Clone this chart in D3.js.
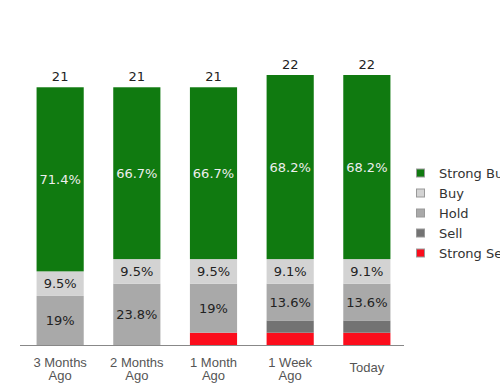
<!DOCTYPE html>
<html>
<head>
<meta charset="utf-8">
<script src="https://cdn.jsdelivr.net/npm/d3@7"></script>
<style>
  body { margin: 0; background: #fff; }
  svg { display: block; }
</style>
</head>
<body>
<div id="chart"></div>
<script>
// periods and analyst counts per rating
const periods = ["3 Months Ago", "2 Months Ago", "1 Month Ago", "1 Week Ago", "Today"];
const ratings = ["Strong Buy", "Buy", "Hold", "Sell", "Strong Sell"];
const strongBuy = [15, 14, 14, 15, 15];
const buy = [2, 2, 2, 2, 2];
const hold = [4, 5, 4, 3, 3];
const sell = [0, 0, 0, 1, 1];
const strongSell = [0, 0, 1, 1, 1];

const colors = ["#107a10", "#d3d3d3", "#a9a9a9", "#737373", "#fb0d1c"];

const width = 500;
const height = 383;

// build rows for the stack, bottom of the bar is strong sell
const rows = periods.map((p, i) => ({
    period: p,
    "Strong Buy": strongBuy[i],
    "Buy": buy[i],
    "Hold": hold[i],
    "Sell": sell[i],
    "Strong Sell": strongSell[i],
    total: strongBuy[i] + buy[i] + hold[i] + sell[i] + strongSell[i]
}));

const stackKeys = ratings.slice().reverse();
const series = d3.stack().keys(stackKeys)(rows);

const svg = d3.select("#chart")
    .append("svg")
    .attr("width", width)
    .attr("height", height);

const x = d3.scaleBand()
    .domain(periods)
    .range([22, 405])
    .paddingInner(0.385)
    .paddingOuter(0.19);

const y = d3.scaleLinear()
    .domain([0, 22])
    .range([345, 75]);

const color = d3.scaleOrdinal().domain(ratings).range(colors);

// stacked segments
const layers = svg.selectAll("g.layer")
    .data(series)
    .enter()
    .append("g")
    .attr("class", "layer")
    .attr("fill", d => color(d.key));

layers.selectAll("rect")
    .data(d => d.map(v => Object.assign(v, { key: d.key })))
    .enter()
    .append("rect")
    .attr("x", d => x(d.data.period))
    .attr("y", d => y(d[1]))
    .attr("width", x.bandwidth())
    .attr("height", d => y(d[0]) - y(d[1]));

// percentage labels (one decimal, trailing .0 dropped)
const pctFmt = v => d3.format(".1f")(v).replace(/\.0$/, "") + "%";

layers.selectAll("text")
    .data(d => d.filter(v => (v[1] - v[0]) / v.data.total > 0.05))
    .enter()
    .append("text")
    .attr("x", d => x(d.data.period) + x.bandwidth() / 2)
    .attr("y", d => (y(d[0]) + y(d[1])) / 2)
    .attr("dy", "0.36em")
    .attr("text-anchor", "middle")
    .attr("font-family", "DejaVu Sans, sans-serif")
    .attr("font-size", 13)
    .attr("fill", d => d.key === "Strong Buy" ? "#eeeeee" : "#222")
    .text(d => pctFmt((d[1] - d[0]) / d.data.total * 100));

// totals above bars
svg.selectAll("text.total")
    .data(rows)
    .enter()
    .append("text")
    .attr("class", "total")
    .attr("x", d => x(d.period) + x.bandwidth() / 2)
    .attr("y", d => y(d.total) - 6)
    .attr("text-anchor", "middle")
    .attr("font-family", "DejaVu Sans, sans-serif")
    .attr("font-size", 13)
    .attr("fill", "#222")
    .text(d => d.total);

// x axis
const xAxis = svg.append("g")
    .attr("transform", `translate(0,${y(0)})`)
    .call(d3.axisBottom(x).tickSize(0).tickFormat(""));
xAxis.select(".domain").attr("stroke", "#888").attr("d", "M20,0.5H404");

svg.selectAll("text.cat")
    .data(periods)
    .enter()
    .append("text")
    .attr("class", "cat")
    .attr("x", d => x(d) + x.bandwidth() / 2)
    .attr("y", 367)
    .attr("text-anchor", "middle")
    .attr("font-family", "Liberation Sans, Arial, sans-serif")
    .attr("font-size", 13)
    .attr("fill", "#555")
    .each(function(d) {
        const words = d.split(" ");
        const el = d3.select(this);
        if (words.length === 1) {
            el.attr("y", 372).text(d);
        } else {
            const last = words.pop();
            el.append("tspan").attr("x", x(d) + x.bandwidth() / 2).text(words.join(" "));
            el.append("tspan").attr("x", x(d) + x.bandwidth() / 2).attr("dy", 12.5).text(last);
        }
    });

// legend
const legend = svg.selectAll("g.legend")
    .data(ratings)
    .enter()
    .append("g")
    .attr("class", "legend")
    .attr("transform", (d, i) => `translate(416,${173 + i * 20})`);

legend.append("rect")
    .attr("x", 0.5)
    .attr("y", -4)
    .attr("width", 8)
    .attr("height", 8)
    .attr("fill", d => color(d))
    .attr("stroke", "#999")
    .attr("stroke-width", 1);

legend.append("text")
    .attr("x", 23)
    .attr("dy", "0.36em")
    .attr("font-family", "DejaVu Sans, sans-serif")
    .attr("font-size", 13)
    .attr("fill", "#333")
    .text(d => d);
</script>
</body>
</html>
